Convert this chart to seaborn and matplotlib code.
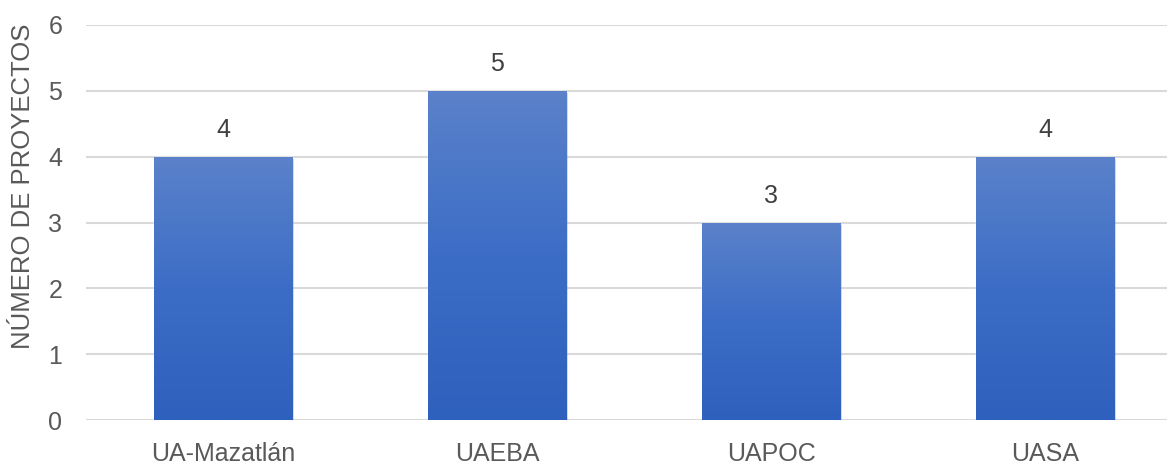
import numpy as np
import pandas as pd
import matplotlib
matplotlib.use("Agg")
import matplotlib.pyplot as plt
import seaborn as sns
from matplotlib.colors import LinearSegmentedColormap
import matplotlib.patheffects as pe

categories = ["UA-Mazatlán", "UAEBA", "UAPOC", "UASA"]
values = [4, 5, 3, 4]
y_ticks = [0, 1, 2, 3, 4, 5, 6]
y_label = "NÚMERO DE PROYECTOS"

sns.set_theme(style="white")
plt.rcParams['font.family'] = ['Liberation Sans', 'DejaVu Sans']

df = pd.DataFrame({"cat": categories, "val": values})

fig = plt.figure(figsize=(11.67, 4.66), dpi=100)
ax = fig.add_axes([86 / 1167, 46 / 466, 1081 / 1167, 395 / 466])

sns.barplot(data=df, x="cat", y="val", ax=ax, color="#3F6FC4", width=0.504,
            saturation=1, zorder=3)

cmap = LinearSegmentedColormap.from_list("g", ["#2E60BD", "#3C6DC6", "#5B82CA"])
grad = np.linspace(0, 1, 256).reshape(-1, 1)
for p in list(ax.patches):
    x0, y0 = p.get_x(), p.get_y()
    w, h = p.get_width(), p.get_height()
    p.set_path_effects([pe.SimplePatchShadow(offset=(1.5, -1.5), shadow_rgbFace="#000000", alpha=0.18),
                        pe.Normal()])
    im = ax.imshow(grad, extent=[x0, x0 + w, y0, y0 + h], origin="lower", cmap=cmap,
                   aspect="auto", zorder=4, interpolation="bilinear")
    im.set_clip_path(p)
    ax.text(x0 + w / 2, y0 + h + 0.22, f"{values[int(round(x0 + w / 2))]}",
            ha="center", va="bottom", fontsize=18, color="#404040", zorder=5)

ax.set_xlim(-0.5, 3.445)
ax.set_ylim(0, 6)
ax.set_yticks(y_ticks)
ax.yaxis.grid(True, color="#D9D9D9", linewidth=1.5, zorder=0)
ax.set_axisbelow(True)
for s in ax.spines.values():
    s.set_visible(False)
ax.tick_params(axis="both", length=0, labelsize=18, labelcolor="#595959")
ax.tick_params(axis="y", pad=17)
ax.tick_params(axis="x", pad=16)
ax.set_xlabel("")
ax.set_ylabel(y_label, fontsize=18.5, color="#595959")
ax.yaxis.set_label_coords(-0.047, 0.592)

fig.savefig("out.png", dpi=100)
